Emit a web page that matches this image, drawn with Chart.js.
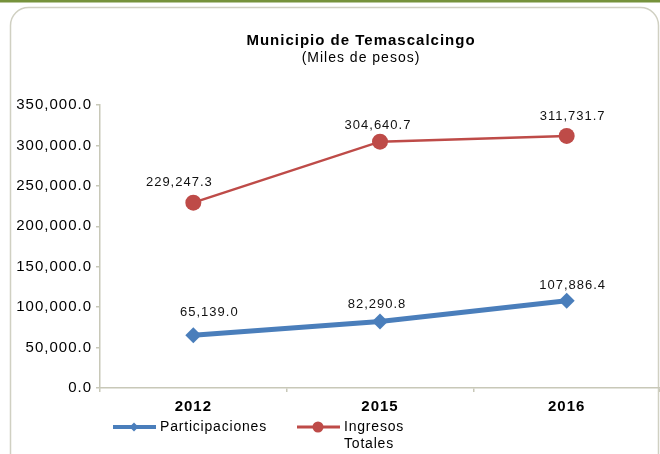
<!DOCTYPE html>
<html>
<head>
<meta charset="utf-8">
<script src="https://cdn.jsdelivr.net/npm/chart.js@4/dist/chart.umd.min.js"></script>
<style>
  body { margin: 0; background: #fff; }
  canvas { display: block; }
</style>
</head>
<body>
<canvas id="chart" width="660" height="454"></canvas>
<script>
const years = ['2012', '2015', '2016'];
const participaciones = [65139.0, 82290.8, 107886.4];
const ingresosTotales = [229247.3, 304640.7, 311731.7];
const yTicks = [0, 50000, 100000, 150000, 200000, 250000, 300000, 350000];
const titleText = 'Municipio de Temascalcingo';
const subtitleText = '(Miles de pesos)';

const FONT = "'Liberation Sans', Arial, sans-serif";
const fmt = v => v.toLocaleString('en-US', { minimumFractionDigits: 1, maximumFractionDigits: 1 });

// wider glyph spacing, the original looks a bit stretched
const spacing = {
    id: 'spacing',
    beforeLayout(chart) { chart.ctx.letterSpacing = '1px'; },
    beforeDraw(chart) { chart.ctx.letterSpacing = '1px'; }
};

// white card with green top rule, rounded grey frame and the titles
const frame = {
    id: 'frame',
    beforeDraw(chart) {
        const ctx = chart.ctx;
        ctx.save();
        ctx.fillStyle = '#fff';
        ctx.fillRect(0, 0, chart.width, chart.height);
        ctx.fillStyle = '#76923c';
        ctx.fillRect(0, 0, chart.width, 2.5);
        ctx.strokeStyle = '#d0d0c2';
        ctx.lineWidth = 1.5;
        ctx.beginPath();
        ctx.roundRect(10.5, 7.5, 648, 470, 18);
        ctx.stroke();

        ctx.fillStyle = '#000';
        ctx.textAlign = 'center';
        ctx.textBaseline = 'middle';
        ctx.font = 'bold 15px ' + FONT;
        ctx.fillText(titleText, 361, 41);
        ctx.font = '14px ' + FONT;
        ctx.fillText(subtitleText, 361, 58);
        ctx.restore();
    }
};

// value labels above each point
const valueLabels = {
    id: 'valueLabels',
    afterDatasetsDraw(chart) {
        const ctx = chart.ctx;
        ctx.save();
        ctx.font = '13px ' + FONT;
        ctx.fillStyle = '#111';
        ctx.textAlign = 'center';
        ctx.textBaseline = 'middle';
        chart.data.datasets.forEach((ds, i) => {
            const meta = chart.getDatasetMeta(i);
            meta.data.forEach((pt, j) => {
                const shift = ds.labelShift[j];
                ctx.fillText(fmt(ds.data[j]), pt.x + shift[0], pt.y - shift[1]);
            });
        });
        ctx.restore();
    }
};

// legend under the x axis, long names wrap
const bottomLegend = {
    id: 'bottomLegend',
    afterDraw(chart) {
        const ctx = chart.ctx;
        const y = chart.chartArea.bottom + 39;
        const slots = [113, 297];
        ctx.save();
        ctx.font = '14px ' + FONT;
        ctx.letterSpacing = '0.8px';
        ctx.textBaseline = 'middle';
        chart.data.datasets.forEach((ds, i) => {
            const x = slots[i];
            ctx.strokeStyle = ds.borderColor;
            ctx.lineWidth = i === 0 ? 4 : 3;
            ctx.beginPath();
            ctx.moveTo(x, y);
            ctx.lineTo(x + 43, y);
            ctx.stroke();
            ctx.fillStyle = ds.borderColor;
            ctx.beginPath();
            if (ds.pointStyle === 'rectRot') {
                ctx.moveTo(x + 21, y - 4.5);
                ctx.lineTo(x + 25.5, y);
                ctx.lineTo(x + 21, y + 4.5);
                ctx.lineTo(x + 16.5, y);
                ctx.closePath();
            } else {
                ctx.arc(x + 21, y, 5.5, 0, Math.PI * 2);
            }
            ctx.fill();
            ctx.fillStyle = '#000';
            ds.legendLines.forEach((line, k) => ctx.fillText(line, x + 47, y + k * 17));
        });
        ctx.restore();
    }
};

new Chart(document.getElementById('chart'), {
    type: 'line',
    data: {
        labels: years,
        datasets: [
            {
                label: 'Participaciones',
                legendLines: ['Participaciones'],
                data: participaciones,
                borderColor: '#4a7ebb',
                backgroundColor: '#4a7ebb',
                borderWidth: 5,
                pointStyle: 'rectRot',
                pointRadius: 8,
                pointBorderWidth: 0,
                labelShift: [[16, 23], [-3, 17], [6, 15]]
            },
            {
                label: 'Ingresos Totales',
                legendLines: ['Ingresos', 'Totales'],
                data: ingresosTotales,
                borderColor: '#be4b48',
                backgroundColor: '#be4b48',
                borderWidth: 2.5,
                pointStyle: 'circle',
                pointRadius: 8,
                pointBorderWidth: 0,
                labelShift: [[-14, 20], [-2, 16], [6, 20]]
            }
        ]
    },
    options: {
        responsive: false,
        animation: false,
        layout: { autoPadding: false, padding: { top: 105, left: 0, right: -4, bottom: 36 } },
        plugins: {
            legend: { display: false },
            tooltip: { enabled: false },
            title: { display: false }
        },
        scales: {
            x: {
                offset: true,
                afterFit: s => { s.height = 30; s.paddingLeft = 0; s.paddingRight = 0; },
                grid: { offset: true, drawOnChartArea: false, tickLength: 4, color: '#c8c8b8', lineWidth: 1.5 },
                border: { color: '#c8c8b8', width: 1.5 },
                ticks: { color: '#000', padding: 6, font: { family: FONT, size: 15, weight: 'bold' } }
            },
            y: {
                min: 0,
                max: 350000,
                afterFit: s => { s.width = 100; s.paddingTop = 0; s.paddingBottom = 0; },
                afterBuildTicks: s => { s.ticks = yTicks.map(v => ({ value: v })); },
                grid: { drawOnChartArea: false, tickLength: 4, color: '#c8c8b8', lineWidth: 1.5 },
                border: { color: '#c8c8b8', width: 1.5 },
                ticks: { color: '#000', padding: 4, font: { family: FONT, size: 15 }, callback: v => fmt(v) }
            }
        }
    },
    plugins: [spacing, frame, valueLabels, bottomLegend]
});
</script>
</body>
</html>
